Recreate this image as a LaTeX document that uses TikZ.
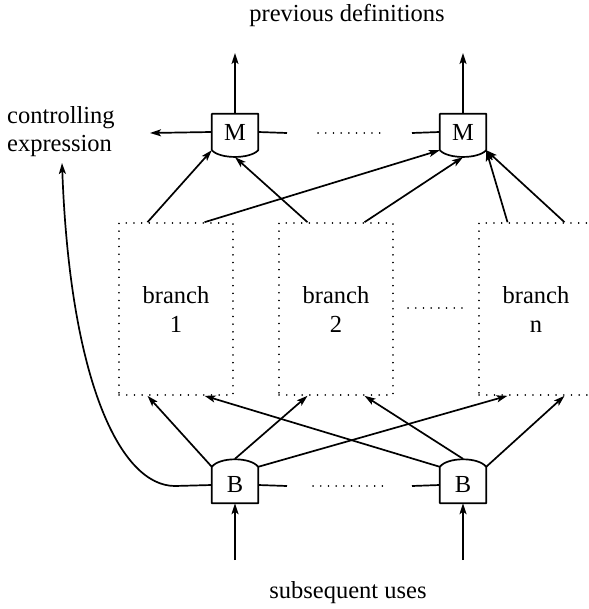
\documentclass[tikz,border=0pt]{standalone}
\usepackage{fontspec}
\setmainfont{Liberation Serif}
\usetikzlibrary{arrows.meta,calc}

\tikzset{
  lbl/.style={inner sep=0pt, font=\fontsize{24.5}{29}\selectfont},
  gate/.style={inner sep=0pt, minimum width=46pt, minimum height=36pt,
               font=\fontsize{24.5}{29}\selectfont},
  gateline/.style={line width=1.7pt, line join=round},
  branchbox/.style={draw, line width=1.6pt, dash pattern=on 0.1pt off 7.6pt,
                    line cap=round, inner sep=0pt, minimum width=114pt,
                    minimum height=172pt, align=center,
                    font=\fontsize{24.5}{29}\selectfont},
  conn/.style={line width=1.7pt, -{Stealth[length=11pt,width=7pt,inset=2.5pt]}},
  plain/.style={line width=1.7pt},
  dots/.style={line width=1.6pt, dash pattern=on 0.1pt off 7.6pt, line cap=round}
}

\begin{document}
\begin{tikzpicture}[x=1pt,y=-1pt]
\useasboundingbox (0,0) rectangle (588,609);

% merge gates (flat top, rounded bottom)
\node[gate] (M1) at (235,132) {M};
\node[gate] (M2) at (463,132) {M};
\foreach \m in {M1,M2}{
  \draw[gateline] (\m.south west) -- (\m.north west) -- (\m.north east) -- (\m.south east)
    .. controls ($(\m.south east)+(-8,9)$) and ($(\m.south west)+(8,9)$) .. (\m.south west);
  \coordinate (\m bot) at ([yshift=-7pt]\m.south);
}

% branch gates (rounded top, flat bottom)
\node[gate] (B1) at (235,485) {B};
\node[gate] (B2) at (463,485) {B};
\foreach \b in {B1,B2}{
  \draw[gateline] (\b.north west) -- (\b.south west) -- (\b.south east) -- (\b.north east)
    .. controls ($(\b.north east)+(-8,-10)$) and ($(\b.north west)+(8,-10)$) .. (\b.north west);
  \coordinate (\b top) at ([yshift=8pt]\b.north);
}

% branch regions
\node[branchbox] (R1) at (176,309) {branch\\1};
\node[branchbox] (R2) at (336,309) {branch\\2};
\node[branchbox] (R3) at (536,309) {branch\\n};
\draw[dots] (408,308) -- (463,308);

% labels
\node[lbl] (prev) at (347,15) {previous definitions};
\node[lbl, anchor=west] (ctl1) at (7,118) {controlling};
\node[lbl, anchor=west] (ctl2) at (7,146) {expression};
\node[lbl] (subs) at (348,593) {subsequent uses};

% free ends
\coordinate (M1up) at (235,53);
\coordinate (M2up) at (463,53);
\coordinate (ctlin) at (150,133);
\coordinate (ctlend) at (62,163);
\coordinate (B1in) at (235,560);
\coordinate (B2in) at (463,560);
\coordinate (M1r) at (287,133);
\coordinate (M2l) at (412,133);
\coordinate (B1r) at (287,486);
\coordinate (B2l) at (412,486);
\coordinate (B1l) at (175,486);

% outputs of the merge gates
\draw[conn] (M1.north) -- (M1up);
\draw[conn] (M2.north) -- (M2up);
\draw[conn] (M1.west) -- (ctlin);
\draw[plain] (M1.east) -- (M1r);
\draw[dots] (318,133) -- (385,133);
\draw[plain] (M2l) -- (M2.west);

% branch regions into the merge gates
\draw[conn] ([xshift=-28.5pt]R1.north) -- (M1.south west);
\draw[conn] ([xshift=28.5pt]R1.north) -- (M2.south west);
\draw[conn] ([xshift=-28.5pt]R2.north) -- (M1bot);
\draw[conn] ([xshift=28.5pt]R2.north) -- (M2bot);
\draw[conn] ([xshift=-28.5pt]R3.north) -- (M2.south east);
\draw[conn] ([xshift=28.5pt]R3.north) -- (M2.south east);

% branch gates into the branch regions
\draw[conn] (B1.north west) -- ([xshift=-28.5pt]R1.south);
\draw[conn] (B1top) -- ([xshift=-28.5pt]R2.south);
\draw[conn] (B1.north east) -- ([xshift=-28.5pt]R3.south);
\draw[conn] (B2.north west) -- ([xshift=28.5pt]R1.south);
\draw[conn] (B2top) -- ([xshift=28.5pt]R2.south);
\draw[conn] (B2.north east) -- ([xshift=28.5pt]R3.south);

% inputs of the branch gates
\draw[conn] (B1in) -- (B1.south);
\draw[conn] (B2in) -- (B2.south);
\draw[plain] (B1.east) -- (B1r);
\draw[dots] (313,486) -- (383,486);
\draw[plain] (B2l) -- (B2.west);

% controlling expression feed
\draw[conn] (B1.west) -- (B1l) .. controls (120,486) and (70,380) .. (ctlend);
\end{tikzpicture}
\end{document}
